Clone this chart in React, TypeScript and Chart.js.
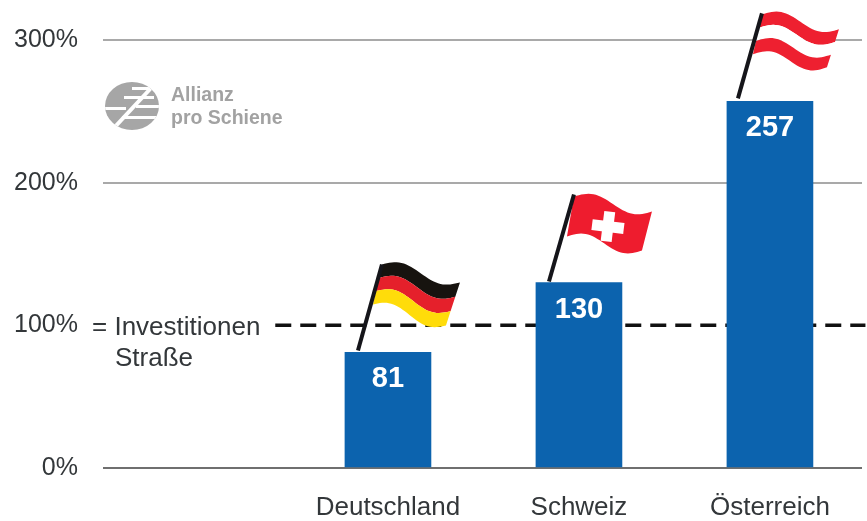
import React, { useEffect, useRef } from "react";
import { Chart, registerables } from "chart.js";

Chart.register(...registerables);

const categories = ["Deutschland", "Schweiz", "Österreich"];
const positions = [1, 2, 3];
const investmentShare = [81, 130, 257];
const referenceLevel = 100;
const referenceSpan = [0.41, 3.5];
const yTicks = [0, 100, 200, 300];
const noteLines = ["= Investitionen", "Straße"];
const logoLines = ["Allianz", "pro Schiene"];

const FONT = '"Liberation Sans", Arial, sans-serif';
const BLUE = "#0c63ae";
const TEXT = "#33373a";

type FlagSpec = {
  pole: number[];
  topLeft: number[];
  topRight: number[];
  botLeft: number[];
  botRight: number[];
  amp: number;
  bands: string[];
  cross?: number[];
};

// Flag geometry is relative to the top-centre of the bar carrying the flag.
const flags: FlagSpec[] = [
  {
    pole: [-30, -2, -6, -88],
    topLeft: [-6, -88],
    topRight: [72, -70],
    botLeft: [-15, -48],
    botRight: [58, -27],
    amp: 6,
    bands: ["#17130f", "#e5202b", "#ffdc0a"],
  },
  {
    pole: [-30, -1, -5, -88],
    topLeft: [-5, -86],
    topRight: [73, -71],
    botLeft: [-12, -46],
    botRight: [63, -32],
    amp: 6,
    bands: ["#ee1c2e"],
    cross: [29, -56],
  },
  {
    pole: [-32, -3, -8, -88],
    topLeft: [-8, -87],
    topRight: [69, -72],
    botLeft: [-17, -47],
    botRight: [57, -34],
    amp: 6,
    bands: ["#ee2030", "#ffffff", "#ee2030"],
  },
];

function edgePoint(f: FlagSpec, s: number, t: number): [number, number] {
  const lx = f.topLeft[0] + (f.botLeft[0] - f.topLeft[0]) * t;
  const ly = f.topLeft[1] + (f.botLeft[1] - f.topLeft[1]) * t;
  const rx = f.topRight[0] + (f.botRight[0] - f.topRight[0]) * t;
  const ry = f.topRight[1] + (f.botRight[1] - f.topRight[1]) * t;
  return [lx + (rx - lx) * s, ly + (ry - ly) * s - f.amp * Math.sin(2 * Math.PI * s)];
}

function drawFlag(ctx: CanvasRenderingContext2D, f: FlagSpec, cx: number, top: number) {
  ctx.save();
  ctx.translate(cx, top);
  const n = f.bands.length;
  f.bands.forEach((color, i) => {
    ctx.beginPath();
    for (let k = 0; k <= 32; k++) {
      const [x, y] = edgePoint(f, k / 32, i / n);
      if (k === 0) ctx.moveTo(x, y);
      else ctx.lineTo(x, y);
    }
    for (let k = 32; k >= 0; k--) {
      const [x, y] = edgePoint(f, k / 32, (i + 1) / n);
      ctx.lineTo(x, y);
    }
    ctx.closePath();
    ctx.fillStyle = color;
    ctx.fill();
  });
  if (f.cross) {
    const [x, y] = f.cross;
    ctx.save();
    ctx.translate(x, y);
    ctx.rotate(0.12);
    ctx.fillStyle = "#ffffff";
    ctx.fillRect(-16, -5.5, 32, 11);
    ctx.fillRect(-5.5, -15, 11, 30);
    ctx.restore();
  }
  ctx.beginPath();
  ctx.moveTo(f.pole[0], f.pole[1]);
  ctx.lineTo(f.pole[2], f.pole[3]);
  ctx.strokeStyle = "#15151a";
  ctx.lineWidth = 4;
  ctx.stroke();
  ctx.restore();
}

function drawLogo(ctx: CanvasRenderingContext2D) {
  ctx.save();
  ctx.save();
  ctx.translate(132, 106);
  ctx.scale(27, 24);
  ctx.beginPath();
  ctx.arc(0, 0, 1, 0, Math.PI * 2);
  ctx.restore();
  ctx.fillStyle = "#a6a6a6";
  ctx.fill();
  ctx.clip();
  ctx.fillStyle = "#ffffff";
  ctx.fillRect(132, 87, 18, 3);
  ctx.fillRect(124, 96, 30, 3);
  ctx.fillRect(104, 107, 22, 3);
  ctx.fillRect(136, 105, 30, 3);
  ctx.fillRect(122, 116, 40, 3);
  ctx.beginPath();
  ctx.moveTo(112, 130);
  ctx.lineTo(152, 87);
  ctx.strokeStyle = "#ffffff";
  ctx.lineWidth = 4;
  ctx.stroke();
  ctx.restore();
  ctx.save();
  ctx.fillStyle = "#a2a2a2";
  ctx.font = `bold 19.5px ${FONT}`;
  ctx.textBaseline = "middle";
  ctx.fillText(logoLines[0], 171, 96);
  ctx.fillText(logoLines[1], 171, 119);
  ctx.restore();
}

// Pictorial decorations and the value labels, placed from the chart's scales.
const decorations = {
  id: "decorations",
  afterDatasetsDraw(chart: Chart) {
    const { ctx, scales } = chart;
    const x = scales.x;
    const y = scales.y;
    drawLogo(ctx);
    ctx.save();
    ctx.fillStyle = TEXT;
    ctx.font = `26px ${FONT}`;
    ctx.textBaseline = "middle";
    ctx.fillText(noteLines[0], 92, y.getPixelForValue(referenceLevel) + 2);
    ctx.fillText(noteLines[1], 115, y.getPixelForValue(referenceLevel) + 33);
    ctx.restore();
    investmentShare.forEach((value, i) => {
      const cx = x.getPixelForValue(positions[i]);
      const top = y.getPixelForValue(value);
      drawFlag(ctx, flags[i], cx, top);
      ctx.save();
      ctx.fillStyle = "#ffffff";
      ctx.font = `bold 29px ${FONT}`;
      ctx.textAlign = "center";
      ctx.textBaseline = "middle";
      ctx.fillText(String(value), cx, top + 27);
      ctx.restore();
    });
  },
};

export default function App() {
  const ref = useRef<HTMLCanvasElement>(null);

  useEffect(() => {
    const chart = new Chart(ref.current!, {
      type: "bar",
      data: {
        datasets: [
          {
            type: "bar",
            data: positions.map((p, i) => ({ x: p, y: investmentShare[i] })),
            backgroundColor: BLUE,
            barThickness: 86,
            order: 1,
          },
          {
            type: "line",
            data: referenceSpan.map((p) => ({ x: p, y: referenceLevel })),
            borderColor: "#111111",
            borderWidth: 3.5,
            borderDash: [16, 9],
            pointRadius: 0,
            clip: false,
            order: 2,
          },
        ],
      } as any,
      options: {
        responsive: false,
        animation: false,
        layout: { padding: { top: 39, right: 5, left: 0, bottom: 0 } },
        plugins: { legend: { display: false }, tooltip: { enabled: false } },
        scales: {
          x: {
            type: "linear",
            offset: false,
            min: -0.492,
            max: 3.482,
            afterFit: (s: any) => {
              s.height = 53;
            },
            afterBuildTicks: (s: any) => {
              s.ticks = positions.map((value) => ({ value }));
            },
            grid: { display: false },
            border: { display: false },
            ticks: {
              callback: (v: any) => categories[positions.indexOf(v)],
              color: TEXT,
              font: { family: FONT, size: 26 },
              padding: 16,
              maxRotation: 0,
              autoSkip: false,
            },
          },
          y: {
            min: 0,
            max: 300,
            afterFit: (s: any) => {
              s.width = 103;
            },
            afterBuildTicks: (s: any) => {
              s.ticks = yTicks.map((value) => ({ value }));
            },
            border: { display: false },
            grid: {
              drawTicks: false,
              lineWidth: 2,
              color: (c: any) =>
                c.tick.value === referenceLevel
                  ? "rgba(0,0,0,0)"
                  : c.tick.value === 0
                    ? "#6f6f6f"
                    : "#a9a9a9",
            },
            ticks: {
              callback: (v: any) => `${v}%`,
              color: TEXT,
              font: { family: FONT, size: 25 },
              padding: 25,
            },
          },
        },
      },
      plugins: [decorations],
    } as any);
    return () => chart.destroy();
  }, []);

  return (
    <div style={{ position: "absolute", left: 0, top: 0, width: 867, height: 521, background: "#fff" }}>
      <canvas ref={ref} width={867} height={521} style={{ display: "block" }} />
    </div>
  );
}
